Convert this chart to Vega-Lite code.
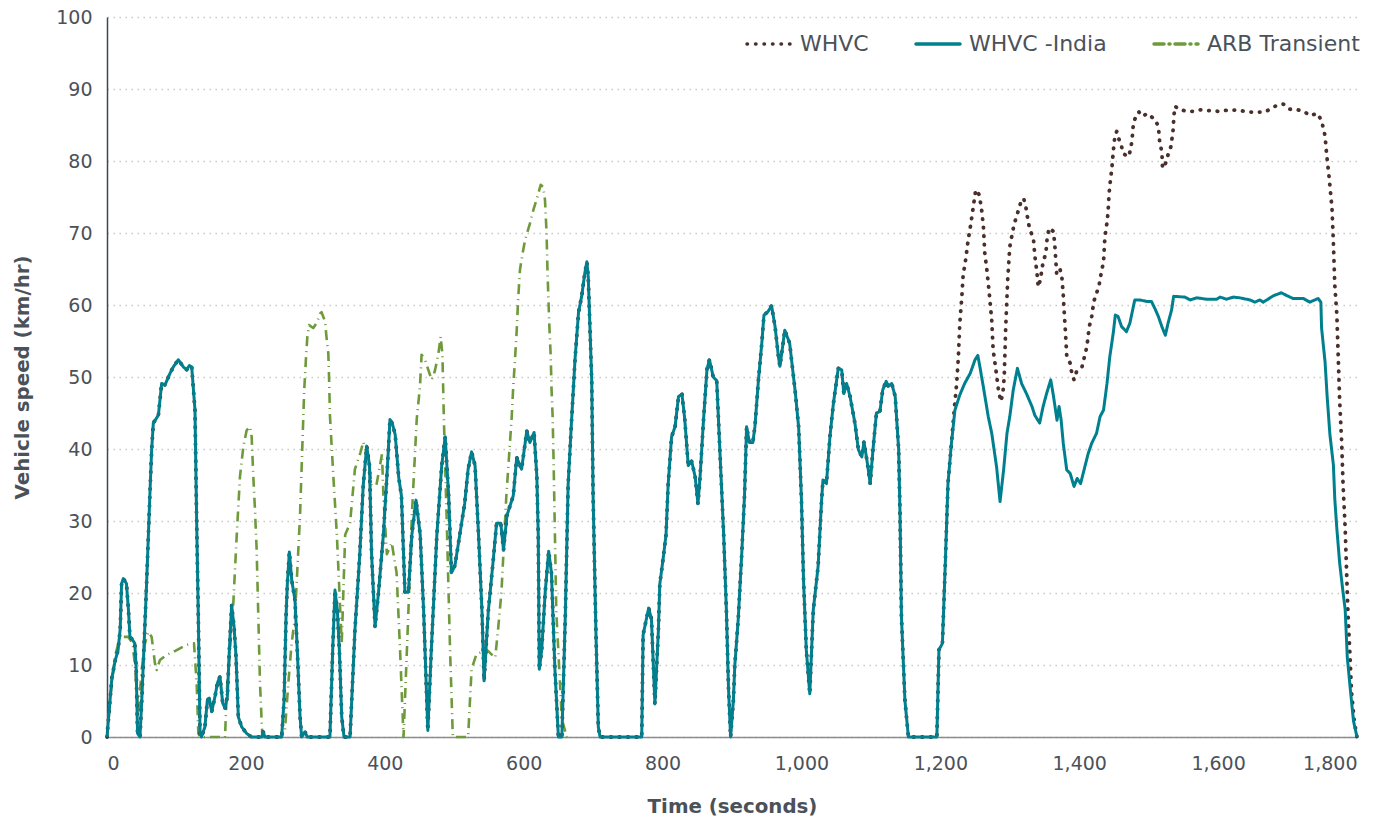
{
  "$schema": "https://vega.github.io/schema/vega-lite/v6.json",
  "width": 1250,
  "height": 720,
  "autosize": "none",
  "padding": {"left": 107, "top": 17, "right": 43, "bottom": 88},
  "config": {
    "font": "DejaVu Sans",
    "view": {"stroke": null},
    "legend": {"padding": 0}
  },
  "datasets": {
    "india": [
      {"t":0,"v":0},{"t":7,"v":8.2},{"t":11.5,"v":10.5},{"t":16,"v":12.1},{"t":19,"v":15},{"t":21,"v":21.3},{"t":23.5,"v":22},{"t":28,"v":21.3},{"t":31,"v":17.5},{"t":33,"v":13.9},{"t":36,"v":13.6},{"t":40,"v":13},{"t":42,"v":9.6},{"t":44,"v":0.5},{"t":47.5,"v":0},{"t":50,"v":5},{"t":52.3,"v":10.2},{"t":57,"v":21.3},{"t":59.5,"v":27.8},{"t":62,"v":34.3},{"t":64.3,"v":39.9},{"t":66.7,"v":43.6},{"t":74,"v":44.7},{"t":78.7,"v":49.1},{"t":83.5,"v":48.9},{"t":90.7,"v":50.5},{"t":95.5,"v":51.4},{"t":102.7,"v":52.4},{"t":110,"v":51.4},{"t":114.7,"v":51},{"t":118.6,"v":51.6},{"t":122,"v":51.4},{"t":126.7,"v":45.4},{"t":129,"v":30.6},{"t":131.5,"v":16.7},{"t":134,"v":0.5},{"t":136,"v":0},{"t":141,"v":1.4},{"t":144.5,"v":5.1},{"t":147.4,"v":5.4},{"t":150.7,"v":3.5},{"t":155.5,"v":5.6},{"t":159,"v":7.5},{"t":162.7,"v":8.4},{"t":166.6,"v":4.7},{"t":170,"v":4},{"t":173.3,"v":5.6},{"t":176.2,"v":12.1},{"t":179.5,"v":18.3},{"t":183,"v":15.3},{"t":185.8,"v":11.2},{"t":189.1,"v":2.8},{"t":194,"v":1.4},{"t":201,"v":0.5},{"t":208,"v":0},{"t":222.7,"v":0},{"t":225,"v":0.7},{"t":227.5,"v":0},{"t":251.5,"v":0},{"t":255,"v":5.1},{"t":257.8,"v":16.7},{"t":259.7,"v":21.3},{"t":262.6,"v":25.7},{"t":266,"v":21.8},{"t":270.7,"v":19},{"t":274,"v":12.1},{"t":278,"v":2.8},{"t":280.3,"v":0},{"t":285,"v":0.7},{"t":288.5,"v":0},{"t":321,"v":0},{"t":325,"v":12.1},{"t":328.3,"v":20.4},{"t":331.7,"v":17.6},{"t":334.6,"v":12.1},{"t":338,"v":2.8},{"t":341.3,"v":0},{"t":350,"v":0},{"t":357,"v":14.8},{"t":364,"v":25.4},{"t":369,"v":35},{"t":374,"v":40.4},{"t":378,"v":37.7},{"t":381,"v":25.4},{"t":386,"v":15.3},{"t":391,"v":20.1},{"t":398,"v":28.1},{"t":403,"v":36.1},{"t":407.5,"v":44.1},{"t":411,"v":43.5},{"t":415,"v":42},{"t":420,"v":36.1},{"t":424,"v":33.5},{"t":429,"v":20.1},{"t":434,"v":20.1},{"t":439,"v":28.1},{"t":445,"v":32.9},{"t":451,"v":28.1},{"t":456,"v":17.4},{"t":462,"v":0.9},{"t":467,"v":12.1},{"t":475,"v":28.1},{"t":482,"v":37.7},{"t":487,"v":41.7},{"t":492,"v":33.5},{"t":496,"v":22.8},{"t":501,"v":23.8},{"t":508,"v":28.1},{"t":515,"v":32.4},{"t":520,"v":37.2},{"t":525,"v":39.6},{"t":530,"v":37.7},{"t":535,"v":28.1},{"t":540,"v":17.4},{"t":543,"v":7.8},{"t":549,"v":17.4},{"t":556,"v":24.4},{"t":561,"v":29.7},{"t":567,"v":29.7},{"t":571,"v":26},{"t":576,"v":30.8},{"t":585,"v":33.5},{"t":590,"v":38.8},{"t":597,"v":37.2},{"t":604.5,"v":42.5},{"t":609,"v":40.9},{"t":615,"v":42.3},{"t":619,"v":36.1},{"t":621,"v":28.1},{"t":622.5,"v":9.4},{"t":626,"v":12.1},{"t":631,"v":20.1},{"t":636,"v":25.8},{"t":640,"v":22.8},{"t":645,"v":9.4},{"t":650,"v":0},{"t":655,"v":0},{"t":660,"v":17},{"t":664,"v":35},{"t":669,"v":44},{"t":674,"v":52.5},{"t":679,"v":59},{"t":683.5,"v":61.2},{"t":688,"v":64.4},{"t":691,"v":66},{"t":693,"v":63.9},{"t":698,"v":49.5},{"t":700,"v":33.5},{"t":704,"v":14.8},{"t":707.5,"v":1.4},{"t":710,"v":0},{"t":770,"v":0},{"t":772,"v":14.2},{"t":780,"v":17.9},{"t":784,"v":16.4},{"t":789,"v":4.6},{"t":794,"v":14.8},{"t":796,"v":21.2},{"t":801,"v":24.9},{"t":805,"v":28.1},{"t":808,"v":35},{"t":813,"v":41.7},{"t":818,"v":43.1},{"t":823,"v":47.3},{"t":828,"v":47.6},{"t":832,"v":44.1},{"t":837,"v":37.7},{"t":842,"v":38.3},{"t":847,"v":36.1},{"t":851,"v":32.4},{"t":854,"v":36.1},{"t":859,"v":44.1},{"t":864,"v":51.1},{"t":867.5,"v":52.4},{"t":873,"v":50},{"t":878,"v":49.5},{"t":883,"v":38.8},{"t":888,"v":28.1},{"t":892,"v":17.4},{"t":895,"v":6.7},{"t":898,"v":0},{"t":902,"v":5.1},{"t":904,"v":9.9},{"t":909,"v":16.4},{"t":914,"v":25.4},{"t":918,"v":33.5},{"t":921,"v":43.1},{"t":925,"v":40.9},{"t":930,"v":40.9},{"t":933,"v":43.1},{"t":938,"v":49.5},{"t":943,"v":54.8},{"t":946,"v":58.6},{"t":952,"v":59.1},{"t":957,"v":59.9},{"t":962,"v":57},{"t":967,"v":52.7},{"t":969,"v":51.5},{"t":973,"v":54.3},{"t":976,"v":56.5},{"t":983,"v":54.7},{"t":991,"v":48},{"t":996,"v":43},{"t":1000,"v":33},{"t":1003,"v":21.8},{"t":1007,"v":12.1},{"t":1012,"v":6},{"t":1017,"v":17.6},{"t":1024,"v":23.7},{"t":1029,"v":32.9},{"t":1031,"v":35.7},{"t":1036,"v":35.2},{"t":1041,"v":41.7},{"t":1046,"v":46.3},{"t":1053,"v":51.2},{"t":1058,"v":51},{"t":1061,"v":47.7},{"t":1065,"v":49.1},{"t":1070,"v":47.3},{"t":1077,"v":43.6},{"t":1082,"v":39.9},{"t":1087,"v":38.9},{"t":1090,"v":41},{"t":1095,"v":38},{"t":1099,"v":35.2},{"t":1103,"v":39.9},{"t":1108,"v":45},{"t":1113,"v":45.2},{"t":1117,"v":48.2},{"t":1122,"v":49.4},{"t":1125,"v":48.7},{"t":1130,"v":49.1},{"t":1135,"v":47.3},{"t":1140,"v":39.9},{"t":1142,"v":30.6},{"t":1144,"v":16.7},{"t":1149,"v":5.1},{"t":1154,"v":0},{"t":1195,"v":0},{"t":1198,"v":12.1},{"t":1203,"v":13},{"t":1207,"v":23.7},{"t":1211,"v":35.2},{"t":1216,"v":40.8},{"t":1221,"v":45.4},{"t":1228,"v":47.5},{"t":1235,"v":49.1},{"t":1243,"v":50.5},{"t":1250,"v":52.4},{"t":1254,"v":53},{"t":1257,"v":51.4},{"t":1262,"v":48.6},{"t":1269,"v":44.5},{"t":1274,"v":42.2},{"t":1281,"v":37.5},{"t":1286,"v":32.7},{"t":1291,"v":37},{"t":1296,"v":42.2},{"t":1300,"v":44.5},{"t":1305,"v":48.2},{"t":1311,"v":51.2},{"t":1317,"v":49.1},{"t":1324,"v":47.7},{"t":1332,"v":45.9},{"t":1336,"v":44.7},{"t":1343,"v":43.6},{"t":1348,"v":45.9},{"t":1353,"v":47.7},{"t":1359,"v":49.6},{"t":1363,"v":47.3},{"t":1368,"v":44},{"t":1371,"v":45.9},{"t":1374,"v":44},{"t":1377,"v":40.8},{"t":1382,"v":37.1},{"t":1387,"v":36.6},{"t":1392.5,"v":34.8},{"t":1397,"v":35.9},{"t":1402,"v":35.2},{"t":1408,"v":37.5},{"t":1413,"v":39.4},{"t":1418,"v":40.8},{"t":1425,"v":42.2},{"t":1430,"v":44.5},{"t":1435,"v":45.4},{"t":1440,"v":49.1},{"t":1444,"v":52.8},{"t":1449,"v":56.1},{"t":1452,"v":58.6},{"t":1456,"v":58.4},{"t":1461,"v":57},{"t":1468,"v":56.3},{"t":1473,"v":57.5},{"t":1478,"v":59.8},{"t":1480,"v":60.7},{"t":1487.5,"v":60.7},{"t":1497,"v":60.5},{"t":1504,"v":60.5},{"t":1509,"v":59.5},{"t":1514,"v":58.4},{"t":1519,"v":57},{"t":1524,"v":55.8},{"t":1528,"v":57.5},{"t":1533,"v":59.3},{"t":1536,"v":61.2},{"t":1552,"v":61.1},{"t":1560,"v":60.7},{"t":1569,"v":61},{"t":1584,"v":60.8},{"t":1598,"v":60.8},{"t":1603,"v":61.1},{"t":1612,"v":60.8},{"t":1622,"v":61.1},{"t":1631,"v":61},{"t":1646,"v":60.7},{"t":1653,"v":60.4},{"t":1660,"v":60.7},{"t":1665,"v":60.4},{"t":1680,"v":61.3},{"t":1691,"v":61.7},{"t":1699,"v":61.3},{"t":1708,"v":60.9},{"t":1723,"v":60.9},{"t":1732,"v":60.4},{"t":1744,"v":60.9},{"t":1748,"v":60.4},{"t":1749,"v":56.8},{"t":1754,"v":52.1},{"t":1757,"v":47.3},{"t":1761,"v":42},{"t":1766,"v":37.8},{"t":1768,"v":33.1},{"t":1771,"v":28.9},{"t":1775,"v":24.2},{"t":1780,"v":20},{"t":1783,"v":17.7},{"t":1786,"v":11.1},{"t":1790,"v":7},{"t":1795,"v":2.2},{"t":1800,"v":0}
    ],
    "whvc": [
      {"t":0,"v":0},{"t":7,"v":8.2},{"t":11.5,"v":10.5},{"t":16,"v":12.1},{"t":19,"v":15},{"t":21,"v":21.3},{"t":23.5,"v":22},{"t":28,"v":21.3},{"t":31,"v":17.5},{"t":33,"v":13.9},{"t":36,"v":13.6},{"t":40,"v":13},{"t":42,"v":9.6},{"t":44,"v":0.5},{"t":47.5,"v":0},{"t":50,"v":5},{"t":52.3,"v":10.2},{"t":57,"v":21.3},{"t":59.5,"v":27.8},{"t":62,"v":34.3},{"t":64.3,"v":39.9},{"t":66.7,"v":43.6},{"t":74,"v":44.7},{"t":78.7,"v":49.1},{"t":83.5,"v":48.9},{"t":90.7,"v":50.5},{"t":95.5,"v":51.4},{"t":102.7,"v":52.4},{"t":110,"v":51.4},{"t":114.7,"v":51},{"t":118.6,"v":51.6},{"t":122,"v":51.4},{"t":126.7,"v":45.4},{"t":129,"v":30.6},{"t":131.5,"v":16.7},{"t":134,"v":0.5},{"t":136,"v":0},{"t":141,"v":1.4},{"t":144.5,"v":5.1},{"t":147.4,"v":5.4},{"t":150.7,"v":3.5},{"t":155.5,"v":5.6},{"t":159,"v":7.5},{"t":162.7,"v":8.4},{"t":166.6,"v":4.7},{"t":170,"v":4},{"t":173.3,"v":5.6},{"t":176.2,"v":12.1},{"t":179.5,"v":18.3},{"t":183,"v":15.3},{"t":185.8,"v":11.2},{"t":189.1,"v":2.8},{"t":194,"v":1.4},{"t":201,"v":0.5},{"t":208,"v":0},{"t":222.7,"v":0},{"t":225,"v":0.7},{"t":227.5,"v":0},{"t":251.5,"v":0},{"t":255,"v":5.1},{"t":257.8,"v":16.7},{"t":259.7,"v":21.3},{"t":262.6,"v":25.7},{"t":266,"v":21.8},{"t":270.7,"v":19},{"t":274,"v":12.1},{"t":278,"v":2.8},{"t":280.3,"v":0},{"t":285,"v":0.7},{"t":288.5,"v":0},{"t":321,"v":0},{"t":325,"v":12.1},{"t":328.3,"v":20.4},{"t":331.7,"v":17.6},{"t":334.6,"v":12.1},{"t":338,"v":2.8},{"t":341.3,"v":0},{"t":350,"v":0},{"t":357,"v":14.8},{"t":364,"v":25.4},{"t":369,"v":35},{"t":374,"v":40.4},{"t":378,"v":37.7},{"t":381,"v":25.4},{"t":386,"v":15.3},{"t":391,"v":20.1},{"t":398,"v":28.1},{"t":403,"v":36.1},{"t":407.5,"v":44.1},{"t":411,"v":43.5},{"t":415,"v":42},{"t":420,"v":36.1},{"t":424,"v":33.5},{"t":429,"v":20.1},{"t":434,"v":20.1},{"t":439,"v":28.1},{"t":445,"v":32.9},{"t":451,"v":28.1},{"t":456,"v":17.4},{"t":462,"v":0.9},{"t":467,"v":12.1},{"t":475,"v":28.1},{"t":482,"v":37.7},{"t":487,"v":41.7},{"t":492,"v":33.5},{"t":496,"v":22.8},{"t":501,"v":23.8},{"t":508,"v":28.1},{"t":515,"v":32.4},{"t":520,"v":37.2},{"t":525,"v":39.6},{"t":530,"v":37.7},{"t":535,"v":28.1},{"t":540,"v":17.4},{"t":543,"v":7.8},{"t":549,"v":17.4},{"t":556,"v":24.4},{"t":561,"v":29.7},{"t":567,"v":29.7},{"t":571,"v":26},{"t":576,"v":30.8},{"t":585,"v":33.5},{"t":590,"v":38.8},{"t":597,"v":37.2},{"t":604.5,"v":42.5},{"t":609,"v":40.9},{"t":615,"v":42.3},{"t":619,"v":36.1},{"t":621,"v":28.1},{"t":622.5,"v":9.4},{"t":626,"v":12.1},{"t":631,"v":20.1},{"t":636,"v":25.8},{"t":640,"v":22.8},{"t":645,"v":9.4},{"t":650,"v":0},{"t":655,"v":0},{"t":660,"v":17},{"t":664,"v":35},{"t":669,"v":44},{"t":674,"v":52.5},{"t":679,"v":59},{"t":683.5,"v":61.2},{"t":688,"v":64.4},{"t":691,"v":66},{"t":693,"v":63.9},{"t":698,"v":49.5},{"t":700,"v":33.5},{"t":704,"v":14.8},{"t":707.5,"v":1.4},{"t":710,"v":0},{"t":770,"v":0},{"t":772,"v":14.2},{"t":780,"v":17.9},{"t":784,"v":16.4},{"t":789,"v":4.6},{"t":794,"v":14.8},{"t":796,"v":21.2},{"t":801,"v":24.9},{"t":805,"v":28.1},{"t":808,"v":35},{"t":813,"v":41.7},{"t":818,"v":43.1},{"t":823,"v":47.3},{"t":828,"v":47.6},{"t":832,"v":44.1},{"t":837,"v":37.7},{"t":842,"v":38.3},{"t":847,"v":36.1},{"t":851,"v":32.4},{"t":854,"v":36.1},{"t":859,"v":44.1},{"t":864,"v":51.1},{"t":867.5,"v":52.4},{"t":873,"v":50},{"t":878,"v":49.5},{"t":883,"v":38.8},{"t":888,"v":28.1},{"t":892,"v":17.4},{"t":895,"v":6.7},{"t":898,"v":0},{"t":902,"v":5.1},{"t":904,"v":9.9},{"t":909,"v":16.4},{"t":914,"v":25.4},{"t":918,"v":33.5},{"t":921,"v":43.1},{"t":925,"v":40.9},{"t":930,"v":40.9},{"t":933,"v":43.1},{"t":938,"v":49.5},{"t":943,"v":54.8},{"t":946,"v":58.6},{"t":952,"v":59.1},{"t":957,"v":59.9},{"t":962,"v":57},{"t":967,"v":52.7},{"t":969,"v":51.5},{"t":973,"v":54.3},{"t":976,"v":56.5},{"t":983,"v":54.7},{"t":991,"v":48},{"t":996,"v":43},{"t":1000,"v":33},{"t":1003,"v":21.8},{"t":1007,"v":12.1},{"t":1012,"v":6},{"t":1017,"v":17.6},{"t":1024,"v":23.7},{"t":1029,"v":32.9},{"t":1031,"v":35.7},{"t":1036,"v":35.2},{"t":1041,"v":41.7},{"t":1046,"v":46.3},{"t":1053,"v":51.2},{"t":1058,"v":51},{"t":1061,"v":47.7},{"t":1065,"v":49.1},{"t":1070,"v":47.3},{"t":1077,"v":43.6},{"t":1082,"v":39.9},{"t":1087,"v":38.9},{"t":1090,"v":41},{"t":1095,"v":38},{"t":1099,"v":35.2},{"t":1103,"v":39.9},{"t":1108,"v":45},{"t":1113,"v":45.2},{"t":1117,"v":48.2},{"t":1122,"v":49.4},{"t":1125,"v":48.7},{"t":1130,"v":49.1},{"t":1135,"v":47.3},{"t":1140,"v":39.9},{"t":1142,"v":30.6},{"t":1144,"v":16.7},{"t":1149,"v":5.1},{"t":1154,"v":0},{"t":1195,"v":0},{"t":1198,"v":12.1},{"t":1203,"v":13},{"t":1207,"v":23.7},{"t":1211,"v":35.2},{"t":1216,"v":40.8},
      {"t":1220,"v":45.4},{"t":1223.5,"v":49.1},{"t":1226,"v":52.8},{"t":1228,"v":57.4},{"t":1231,"v":61.2},{"t":1233,"v":64.4},{"t":1235.5,"v":65.6},{"t":1240,"v":69},{"t":1244,"v":71.3},{"t":1247.5,"v":73.7},{"t":1251,"v":76},{"t":1256,"v":75.3},{"t":1259.5,"v":73.2},{"t":1262,"v":70.9},{"t":1264,"v":67.2},{"t":1267,"v":64.9},{"t":1270.5,"v":61.6},{"t":1274,"v":57.9},{"t":1276,"v":53.8},{"t":1280,"v":51},{"t":1283.5,"v":48.4},{"t":1287,"v":46.6},{"t":1290,"v":47.7},{"t":1292,"v":50},{"t":1294,"v":56.5},{"t":1297,"v":63.5},{"t":1300,"v":68.1},{"t":1306,"v":71.1},{"t":1311,"v":72.7},{"t":1316,"v":74.3},{"t":1320,"v":74.8},{"t":1323,"v":73.7},{"t":1327,"v":71.3},{"t":1330,"v":70.2},{"t":1334,"v":69.3},{"t":1336,"v":66.9},{"t":1339,"v":64.6},{"t":1341,"v":62.5},{"t":1344,"v":63.5},{"t":1348,"v":66},{"t":1352,"v":67.2},{"t":1354,"v":69.5},{"t":1357,"v":70.7},{"t":1363,"v":70.2},{"t":1365,"v":68.1},{"t":1367.5,"v":64.4},{"t":1372,"v":65.1},{"t":1375,"v":63.9},{"t":1377,"v":61.4},{"t":1378.5,"v":58.8},{"t":1380,"v":56.5},{"t":1382,"v":53},{"t":1387,"v":51.9},{"t":1389,"v":50.7},{"t":1392.5,"v":49.6},{"t":1396,"v":50.7},{"t":1404,"v":51.4},{"t":1407,"v":52.6},{"t":1411,"v":54.2},{"t":1414.5,"v":57},{"t":1418,"v":58.4},{"t":1421,"v":60.5},{"t":1425,"v":61.6},{"t":1429,"v":63},{"t":1432,"v":64.6},{"t":1435,"v":66},{"t":1437,"v":69.5},{"t":1440.5,"v":71.8},{"t":1442,"v":73.7},{"t":1443,"v":75.5},{"t":1445,"v":77.4},{"t":1447,"v":79},{"t":1449,"v":81.3},{"t":1451.5,"v":83.6},{"t":1454,"v":84.1},{"t":1457,"v":83.1},{"t":1461,"v":82},{"t":1463.5,"v":81},{"t":1471,"v":80.6},{"t":1474,"v":81.6},{"t":1476,"v":82.9},{"t":1478,"v":85.2},{"t":1483,"v":86.6},{"t":1486,"v":86.8},{"t":1491,"v":86.2},{"t":1498,"v":86.6},{"t":1503,"v":86.2},{"t":1509,"v":85.8},{"t":1514,"v":84.8},{"t":1516,"v":82.5},{"t":1519,"v":81.3},{"t":1520,"v":79},{"t":1523.5,"v":79.4},{"t":1527,"v":80.6},{"t":1532,"v":82},{"t":1535,"v":84.1},{"t":1536.5,"v":86.4},{"t":1538,"v":87.6},{"t":1545,"v":87.1},{"t":1557,"v":86.9},{"t":1564,"v":86.9},{"t":1574,"v":87.1},{"t":1585,"v":87},{"t":1600,"v":86.9},{"t":1617,"v":87.1},{"t":1631.5,"v":87},{"t":1646,"v":86.8},{"t":1660,"v":86.8},{"t":1667,"v":86.8},{"t":1675,"v":87.2},{"t":1684,"v":87.7},{"t":1694,"v":87.9},{"t":1703,"v":87.2},{"t":1715,"v":87.1},{"t":1725,"v":86.8},{"t":1732,"v":86.3},{"t":1743,"v":86.6},{"t":1749,"v":85.6},{"t":1754,"v":83.5},{"t":1756,"v":81.2},{"t":1760,"v":77.6},{"t":1764,"v":73.4},{"t":1766,"v":68.7},{"t":1768,"v":62.8},{"t":1771,"v":58.6},{"t":1773,"v":52.7},{"t":1775,"v":46.8},{"t":1778,"v":40.8},{"t":1780,"v":34.9},{"t":1783,"v":28.9},{"t":1785,"v":23},{"t":1787,"v":17.1},{"t":1790,"v":11.1},{"t":1792,"v":6.4},{"t":1796,"v":2.2},{"t":1800,"v":0}
    ],
    "arb": [
      {"t":0,"v":0},{"t":4.3,"v":5.1},{"t":11.5,"v":11.2},{"t":18.7,"v":13.9},{"t":30.7,"v":13.9},{"t":37,"v":13},{"t":40.3,"v":9.8},{"t":45.1,"v":3.3},{"t":49.9,"v":9.3},{"t":54.7,"v":13},{"t":59.5,"v":14.6},{"t":64.3,"v":13.9},{"t":69.1,"v":10.2},{"t":71.5,"v":9.3},{"t":76.3,"v":10.7},{"t":85.9,"v":11.4},{"t":95.5,"v":11.8},{"t":105.1,"v":12.3},{"t":114.7,"v":12.8},{"t":125.3,"v":13},{"t":129.1,"v":7.5},{"t":131.5,"v":0.5},{"t":134,"v":0},{"t":170,"v":0},{"t":172.3,"v":6.1},{"t":177.1,"v":12.1},{"t":181.9,"v":18.6},{"t":186.7,"v":27.8},{"t":191.5,"v":36.2},{"t":196.3,"v":40.3},{"t":201.1,"v":42.6},{"t":205.9,"v":43.1},{"t":208.3,"v":41.7},{"t":210.7,"v":36.2},{"t":213.1,"v":31.5},{"t":215.5,"v":26},{"t":217.9,"v":16.7},{"t":220.3,"v":7.5},{"t":223.7,"v":0},{"t":251.5,"v":0},{"t":256.3,"v":1},{"t":261.1,"v":7.5},{"t":265.9,"v":13},{"t":270.7,"v":16.7},{"t":275.5,"v":26},{"t":277.9,"v":30.6},{"t":280.3,"v":37.5},{"t":282.7,"v":44.5},{"t":284,"v":48.2},{"t":286.5,"v":52.6},{"t":288.5,"v":55.6},{"t":291,"v":57.2},{"t":297,"v":56.8},{"t":302,"v":57.5},{"t":306.7,"v":58.8},{"t":309,"v":59},{"t":314,"v":57.7},{"t":316,"v":55.6},{"t":318.7,"v":53.3},{"t":320,"v":49.1},{"t":321,"v":44.7},{"t":326,"v":36.1},{"t":331,"v":28.1},{"t":338,"v":13},{"t":343,"v":28.1},{"t":350,"v":29.7},{"t":357,"v":37.2},{"t":365,"v":39.5},{"t":369,"v":41},{"t":376,"v":38.8},{"t":381,"v":35},{"t":388,"v":35},{"t":396,"v":39.3},{"t":398,"v":33.5},{"t":403,"v":25.4},{"t":410,"v":27},{"t":417,"v":22.8},{"t":422,"v":12.1},{"t":427,"v":0},{"t":434,"v":17.4},{"t":439,"v":30.8},{"t":446,"v":44.1},{"t":450.7,"v":48.7},{"t":453,"v":53.1},{"t":458,"v":52.4},{"t":462.7,"v":51},{"t":467.5,"v":49.6},{"t":472,"v":50.8},{"t":477,"v":53.1},{"t":480.5,"v":55.6},{"t":483,"v":53.1},{"t":485,"v":44.5},{"t":489,"v":30.8},{"t":494,"v":12.1},{"t":498,"v":0},{"t":520,"v":0},{"t":525,"v":9.4},{"t":532,"v":11.5},{"t":547,"v":12.1},{"t":559,"v":11},{"t":563,"v":14.8},{"t":568,"v":20.1},{"t":575,"v":33.4},{"t":582.7,"v":44.3},{"t":585,"v":48.7},{"t":587.5,"v":52.4},{"t":590,"v":56.5},{"t":592,"v":60.7},{"t":594.7,"v":64.9},{"t":598.5,"v":67.2},{"t":602,"v":69},{"t":605,"v":70},{"t":609,"v":71.3},{"t":614,"v":73.2},{"t":619.7,"v":75},{"t":624.5,"v":76.7},{"t":628,"v":76.4},{"t":630.7,"v":74.6},{"t":633,"v":70},{"t":634,"v":65.8},{"t":635.5,"v":61.2},{"t":637,"v":57},{"t":639,"v":52.8},{"t":640,"v":48.7},{"t":641.7,"v":44.5},{"t":643,"v":38.8},{"t":647,"v":17.4},{"t":655,"v":2.5},{"t":662,"v":0},{"t":668,"v":0}
    ]
  },
  "encoding": {
    "x": {
      "field": "t", "type": "quantitative",
      "scale": {"domain": [0, 1800], "nice": false},
      "axis": {
        "values": [0,200,400,600,800,1000,1200,1400,1600,1800],
        "format": ",.0f", "grid": false, "ticks": false,
        "domainColor": "#8a8d90", "domainWidth": 1.5,
        "labelFontSize": 19, "labelColor": "#4b5159", "labelPadding": 17,
        "title": "Time (seconds)", "titleFontSize": 19.8, "titleFontWeight": "bold",
        "titleColor": "#4b5159", "titlePadding": 23
      }
    },
    "y": {
      "field": "v", "type": "quantitative",
      "scale": {"domain": [0, 100], "nice": false},
      "axis": {
        "values": [0,10,20,30,40,50,60,70,80,90,100],
        "grid": true, "gridDash": [1.5, 4.5], "gridColor": "#c8c8c8", "gridWidth": 1.5,
        "ticks": false, "domainColor": "#3d4852", "domainWidth": 1.5,
        "labelFontSize": 19, "labelColor": "#4b5159", "labelPadding": 15,
        "title": "Vehicle speed (km/hr)", "titleFontSize": 19.8, "titleFontWeight": "bold",
        "titleColor": "#4b5159", "titlePadding": 23
      }
    },
    "color": {
      "datum": "WHVC",
      "type": "nominal",
      "scale": {"domain": ["WHVC", "WHVC -India", "ARB Transient"], "range": ["#4b2f2a", "#00808f", "#6e9a3c"]},
      "legend": {
        "title": null, "orient": "none", "legendX": 638, "legendY": 3, "direction": "horizontal",
        "symbolType": "stroke", "symbolSize": 1936, "symbolStrokeWidth": 3.5,
        "labelFontSize": 22, "labelColor": "#4b5159", "labelOffset": 7, "columnPadding": 40,
        "encode": {"symbols": {"update": {"strokeCap": {"value": "round"}}}}
      }
    },
    "strokeDash": {
      "datum": "WHVC",
      "type": "nominal",
      "scale": {"domain": ["WHVC", "WHVC -India", "ARB Transient"], "range": [[0.5, 8], [1, 0], [10, 5, 1, 5]]},
      "legend": {
        "title": null, "orient": "none", "legendX": 638, "legendY": 3, "direction": "horizontal",
        "symbolType": "stroke", "symbolSize": 1936, "symbolStrokeWidth": 3.5,
        "labelFontSize": 22, "labelColor": "#4b5159", "labelOffset": 7, "columnPadding": 40,
        "encode": {"symbols": {"update": {"strokeCap": {"value": "round"}}}}
      }
    }
  },
  "layer": [
    {
      "data": {"name": "arb"},
      "mark": {"type": "line", "strokeWidth": 2.6, "strokeJoin": "round"},
      "encoding": {"color": {"datum": "ARB Transient", "type": "nominal"}, "strokeDash": {"datum": "ARB Transient", "type": "nominal"}}
    },
    {
      "data": {"name": "whvc"},
      "mark": {"type": "line", "strokeWidth": 3.8, "strokeJoin": "round", "strokeCap": "round"},
      "encoding": {"color": {"datum": "WHVC", "type": "nominal"}, "strokeDash": {"datum": "WHVC", "type": "nominal"}}
    },
    {
      "data": {"name": "india"},
      "mark": {"type": "line", "strokeWidth": 3, "strokeJoin": "round"},
      "encoding": {"color": {"datum": "WHVC -India", "type": "nominal"}, "strokeDash": {"datum": "WHVC -India", "type": "nominal"}}
    }
  ]
}
